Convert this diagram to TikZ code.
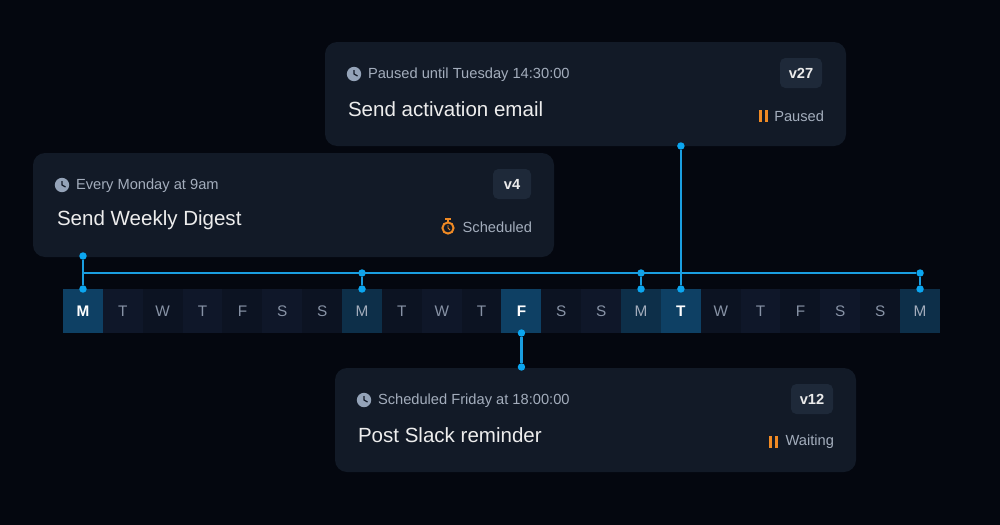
\documentclass[tikz,border=0pt]{standalone}
\usepackage{fontspec}
\setmainfont{Liberation Sans}
\usetikzlibrary{positioning}
\definecolor{bgdark}{HTML}{04070F}
\definecolor{cardfill}{HTML}{121A27}
\definecolor{badgefill}{HTML}{1E2939}
\definecolor{dayodd}{HTML}{0C1322}
\definecolor{dayeven}{HTML}{0F1729}
\definecolor{daydim}{HTML}{0D2F49}
\definecolor{daylit}{HTML}{0E4064}
\definecolor{linkblue}{HTML}{0BA6F0}
\definecolor{linkdark}{HTML}{1A9EE0}
\definecolor{mutedtext}{HTML}{A3ADBC}
\definecolor{daytext}{HTML}{8792A5}
\definecolor{iconorange}{HTML}{F08A24}
\definecolor{iconslate}{HTML}{94A3B8}

\begin{document}
\begin{tikzpicture}[
  x=0.75pt, y=-0.75pt,
  every node/.style={inner sep=0pt, outer sep=0pt},
  card/.style={rectangle, rounded corners=9pt, fill=cardfill, minimum width=390.75pt, minimum height=78pt, anchor=north west},
  badge/.style={rectangle, rounded corners=4pt, fill=badgefill, minimum width=28.5pt, minimum height=22.5pt, text=white!92!black, font=\fontsize{11}{13}\selectfont\bfseries},
  whenlabel/.style={anchor=west, text=mutedtext, font=\fontsize{11}{13}\selectfont},
  titlelabel/.style={anchor=west, text=white!93!black, font=\fontsize{15.4}{18}\selectfont},
  statuslabel/.style={anchor=east, text=mutedtext, font=\fontsize{11}{13}\selectfont},
  daycell/.style={rectangle, minimum width=30pt, minimum height=33pt, text=daytext, font=\fontsize{11.5}{13}\selectfont, anchor=north west},
  litcell/.style={daycell, fill=daylit, text=white, font=\fontsize{11.5}{13}\selectfont\bfseries},
  dimcell/.style={daycell, fill=daydim, text=mutedtext},
  dot/.style={circle, fill=linkblue, minimum size=5.6pt},
  link/.style={draw=linkdark, line width=1.6pt},
  clockicon/.pic={
    \fill[iconslate] (0,0) circle (5.4pt);
    \draw[cardfill, line width=0.9pt] (0,-4) -- (0,0) -- (3.5,2);
  },
  watchicon/.pic={
    \draw[iconorange, line width=1.5pt] (0,0) circle (4.2pt);
    \draw[iconorange, line width=1.5pt] (-3,-9.5) -- (3,-9.5);
    \draw[iconorange, line width=1.5pt] (0,-9.5) -- (0,-6);
    \draw[iconorange, line width=0.7pt] (0,-3) -- (0,0) -- (2,2);
  },
  pauseicon/.pic={
    \fill[iconorange] (-4.25,-6) rectangle (-1.25,6);
    \fill[iconorange] (1.25,-6) rectangle (4.25,6);
  }
]
\useasboundingbox[fill=bgdark] (0,0) rectangle (1000,525);

% cards
\node[card] (pausedcard) at (325,42) {};
\node[card] (digestcard) at (33,153) {};
\node[card] (slackcard) at (335,368) {};

% paused card
\pic at (354,74) {clockicon};
\node[whenlabel] (pausedwhen) at (368,75) {Paused until Tuesday 14:30:00};
\node[titlelabel] (pausedtitle) at (348,109) {Send activation email};
\node[badge, minimum width=31.5pt] (pausedbadge) at (801,73) {v27};
\pic at (763.5,116) {pauseicon};
\node[statuslabel] (pausedstatus) at (824,116) {Paused};

% digest card
\pic at (62,185) {clockicon};
\node[whenlabel] (digestwhen) at (76,186) {Every Monday at 9am};
\node[titlelabel] (digesttitle) at (57,220) {Send Weekly Digest};
\node[badge] (digestbadge) at (512,184) {v4};
\pic at (448,228) {watchicon};
\node[statuslabel] (digeststatus) at (532,227) {Scheduled};

% slack card
\pic at (364,400) {clockicon};
\node[whenlabel] (slackwhen) at (378,401) {Scheduled Friday at 18:00:00};
\node[titlelabel] (slacktitle) at (358,435) {Post Slack reminder};
\node[badge, minimum width=31.5pt] (slackbadge) at (812,399) {v12};
\pic at (773.5,442) {pauseicon};
\node[statuslabel] (slackstatus) at (834,442) {Waiting};

% day strip
\foreach \i/\d/\kind in {0/M/litcell, 1/T/daycell, 2/W/daycell, 3/T/daycell, 4/F/daycell, 5/S/daycell, 6/S/daycell,
  7/M/dimcell, 8/T/daycell, 9/W/daycell, 10/T/daycell, 11/F/litcell, 12/S/daycell, 13/S/daycell,
  14/M/dimcell, 15/T/litcell, 16/W/daycell, 17/T/daycell, 18/F/daycell, 19/S/daycell, 20/S/daycell, 21/M/dimcell} {
  \pgfmathsetmacro{\cellx}{63+39.86*\i}
  \pgfmathparse{int(mod(\i,2))}
  \ifnum\pgfmathresult=0 \def\cellfill{dayodd}\else\def\cellfill{dayeven}\fi
  \node[daycell, fill=\cellfill, \kind] (day\i) at (\cellx,289) {\d};
}

% dots
\coordinate (railstart) at (day0.north |- 0,273);
\node[dot] (digestdot) at (day0.north |- 0,256) {};
\node[dot] (mondaya) at (day0.north) {};
\node[dot] (railb) at (day7.north |- 0,273) {};
\node[dot] (mondayb) at (day7.north) {};
\node[dot] (railc) at (day14.north |- 0,273) {};
\node[dot] (mondayc) at (day14.north) {};
\node[dot] (raild) at (day21.north |- 0,273) {};
\node[dot] (mondayd) at (day21.north) {};
\node[dot] (pauseddot) at (day15.north |- 0,146) {};
\node[dot] (tuesday) at (day15.north) {};
\node[dot] (friday) at (day11.south) {};
\node[dot] (slackdot) at (day11.south |- 0,367) {};

% connectors
\draw[link] (digestdot) -- (mondaya);
\draw[link] (railstart) -- (raild);
\draw[link] (railb) -- (mondayb);
\draw[link] (railc) -- (mondayc);
\draw[link] (raild) -- (mondayd);
\draw[link] (pauseddot) -- (tuesday);
\draw[link] (friday) -- (slackdot);
\end{tikzpicture}
\end{document}
